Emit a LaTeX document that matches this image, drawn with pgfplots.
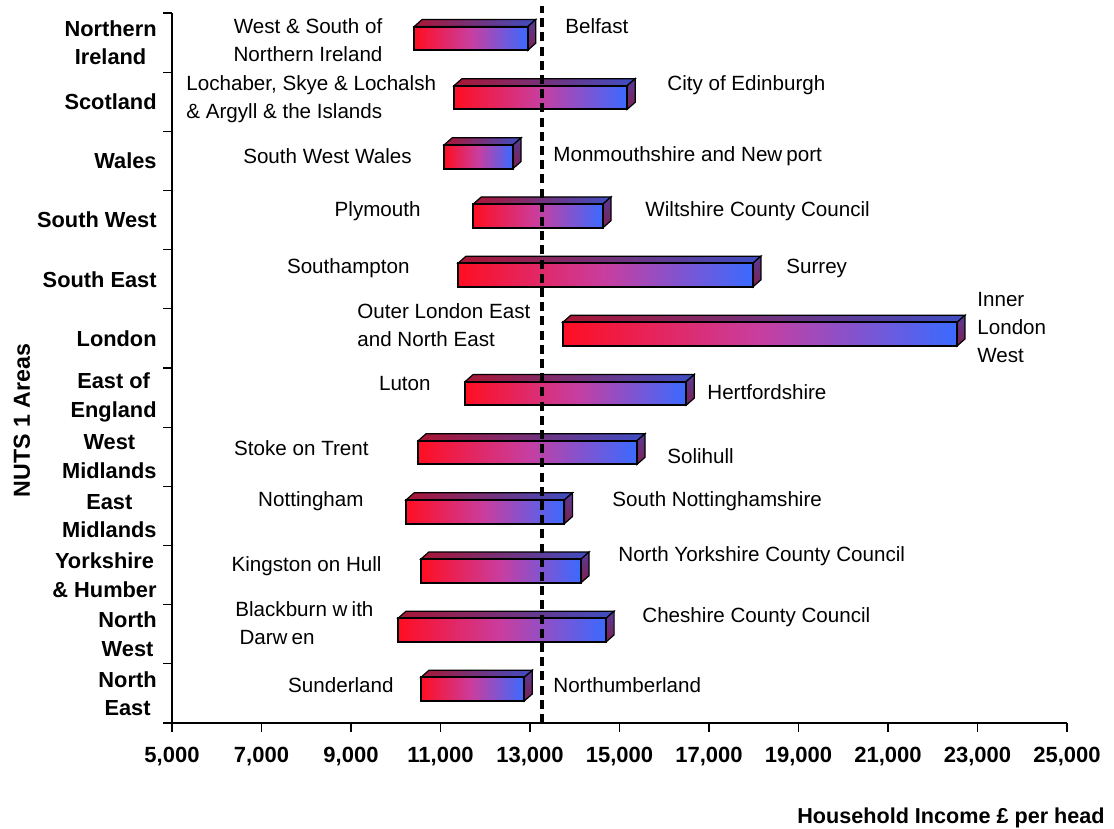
\documentclass[border=0pt]{standalone}
\usepackage{pgfplots}
\pgfplotsset{compat=1.18}
\usepackage{fontspec}
\setmainfont{Liberation Sans}

\definecolor{barred}{RGB}{255,14,34}
\definecolor{barmid}{RGB}{200,62,160}
\definecolor{barblue}{RGB}{58,106,255}
\definecolor{topred}{RGB}{170,22,52}
\definecolor{topblue}{RGB}{62,78,196}
\definecolor{sidetop}{RGB}{88,58,150}
\definecolor{sidebot}{RGB}{125,32,82}

\tikzset{
  frontface/.style={draw=black, line width=1pt, left color=barred, right color=barblue, middle color=barmid},
  topface/.style={draw=black, line width=0.6pt, left color=topred, right color=topblue},
  sideface/.style={draw=black, line width=0.6pt, top color=sidetop, bottom color=sidebot},
  lab/.style={font=\fontsize{10.3}{14}\selectfont, inner sep=0pt},
  cat/.style={font=\bfseries\fontsize{10.9}{14.2}\selectfont, align=center, anchor=east, inner sep=0pt},
}

% one floating bar with a bevelled top and right side
% #1 row centre, #2 lowest area, #3 highest area
\newcommand{\regionbar}[3]{%
  \pgfmathsetmacro{\yb}{#1-0.13}%
  \pgfmathsetmacro{\yt}{#1+0.27}%
  \pgfmathsetmacro{\ybb}{#1-0.01}%
  \pgfmathsetmacro{\ytt}{#1+0.39}%
  \edef\xlb{\the\numexpr#2+180\relax}%
  \edef\xhb{\the\numexpr#3+180\relax}%
  \addplot[topface] coordinates {(#2,\yt) (#3,\yt) (\xhb,\ytt) (\xlb,\ytt)} -- cycle;
  \addplot[sideface] coordinates {(#3,\yb) (\xhb,\ybb) (\xhb,\ytt) (#3,\yt)} -- cycle;
  \addplot[frontface] coordinates {(#2,\yb) (#3,\yb) (#3,\yt) (#2,\yt)} -- cycle;
}

\begin{document}
\begin{tikzpicture}
\path[use as bounding box] (0,0) rectangle (557pt,414.5pt);
\begin{axis}[
  at={(86pt,53pt)}, anchor=south west,
  scale only axis, width=447.5pt, height=355pt,
  xmin=5000, xmax=25000, ymin=0, ymax=12,
  axis lines*=left,
  axis line style={line width=0.6pt},
  clip=false,
  tick align=outside,
  major tick length=4.5pt,
  tick style={black, line width=0.6pt},
  xtick={5000,7000,...,25000},
  ytick={0,1,...,12},
  yticklabels={},
  /pgf/number format/assume math mode=true,
  /pgf/number format/1000 sep={,},
  xticklabel style={font=\bfseries\fontsize{11}{13}\selectfont, yshift=-4pt},
  scaled x ticks=false,
]

% North East ... Northern Ireland, bottom to top
\regionbar{0.5}{10560}{12870}
\regionbar{1.5}{10050}{14700}
\regionbar{2.5}{10560}{14140}
\regionbar{3.5}{10230}{13770}
\regionbar{4.5}{10500}{15390}
\regionbar{5.5}{11550}{16490}
\regionbar{6.5}{13730}{22540}
\regionbar{7.5}{11390}{17980}
\regionbar{8.5}{11730}{14630}
\regionbar{9.5}{11080}{12620}
\regionbar{10.5}{11300}{15170}
\regionbar{11.5}{10410}{12950}

% UK average
\addplot[black, line width=1.6pt, dash pattern=on 4.5pt off 2.6pt] coordinates {(13268,0) (13268,12.12)};

% region names
\node[cat] at (axis cs:5000,0.5)  [xshift=-7.5pt] {North\\East};
\node[cat] at (axis cs:5000,1.5)  [xshift=-7.5pt] {North\\West};
\node[cat] at (axis cs:5000,2.5)  [xshift=-7.5pt] {Yorkshire\\\& Humber};
\node[cat] at (axis cs:5000,3.5)  [xshift=-7.5pt] {East\\Midlands};
\node[cat] at (axis cs:5000,4.5)  [xshift=-7.5pt] {West\\Midlands};
\node[cat] at (axis cs:5000,5.5)  [xshift=-7.5pt] {East of\\England};
\node[cat] at (axis cs:5000,6.5)  [xshift=-7.5pt] {London};
\node[cat] at (axis cs:5000,7.5)  [xshift=-7.5pt] {South East};
\node[cat] at (axis cs:5000,8.5)  [xshift=-7.5pt] {South West};
\node[cat] at (axis cs:5000,9.5)  [xshift=-7.5pt] {Wales};
\node[cat] at (axis cs:5000,10.5) [xshift=-7.5pt] {Scotland};
\node[cat] at (axis cs:5000,11.5) [xshift=-7.5pt] {Northern\\Ireland};

% lowest and highest areas
\node[lab, align=center] at (axis cs:8040,11.54) {West \& South of\\Northern Ireland};
\node[lab, anchor=west] at (axis cs:13782,11.78) {Belfast};
\node[lab, anchor=west, align=left] at (axis cs:5313,10.55) {Lochaber, Skye \& Lochalsh\\\& Argyll \& the Islands};
\node[lab, anchor=west] at (axis cs:16061,10.78) {City of Edinburgh};
\node[lab, anchor=east] at (axis cs:10363,9.58) {South West Wales};
\node[lab, anchor=west] at (axis cs:13514,9.58) {Monmouthshire and New\hspace{0.2em}port};
\node[lab, anchor=east] at (axis cs:10564,8.65) {Plymouth};
\node[lab, anchor=west] at (axis cs:15570,8.65) {Wiltshire County Council};
\node[lab, anchor=east] at (axis cs:10318,7.69) {Southampton};
\node[lab, anchor=west] at (axis cs:18720,7.69) {Surrey};
\node[lab, anchor=west, align=left] at (axis cs:9134,6.72) {Outer London East\\and North East};
\node[lab, anchor=west, align=left] at (axis cs:22989,6.68) {Inner\\London\\West};
\node[lab, anchor=east] at (axis cs:10788,5.73) {Luton};
\node[lab, anchor=west] at (axis cs:16955,5.59) {Hertfordshire};
\node[lab, anchor=east] at (axis cs:9402,4.65) {Stoke on Trent};
\node[lab, anchor=west] at (axis cs:16061,4.51) {Solihull};
\node[lab, anchor=east] at (axis cs:9290,3.75) {Nottingham};
\node[lab, anchor=west] at (axis cs:14832,3.75) {South Nottinghamshire};
\node[lab, anchor=east] at (axis cs:9693,2.65) {Kingston on Hull};
\node[lab, anchor=west] at (axis cs:14966,2.82) {North Yorkshire County Council};
\node[lab, anchor=west, align=left] at (axis cs:6408,1.69) {Blackburn w\hspace{0.2em}ith\\\hspace{0.2em}Darw\hspace{0.2em}en};
\node[lab, anchor=west] at (axis cs:15503,1.79) {Cheshire County Council};
\node[lab, anchor=east] at (axis cs:9961,0.64) {Sunderland};
\node[lab, anchor=west] at (axis cs:13514,0.64) {Northumberland};
\end{axis}

\node[rotate=90, font=\bfseries\fontsize{11.6}{14}\selectfont, inner sep=0pt] at (11pt,204.25pt) {NUTS 1 Areas};
\node[anchor=base east, font=\bfseries\fontsize{10.8}{13}\selectfont, inner sep=0pt] at (552.5pt,2.5pt) {Household Income £ per head};
\end{tikzpicture}
\end{document}
